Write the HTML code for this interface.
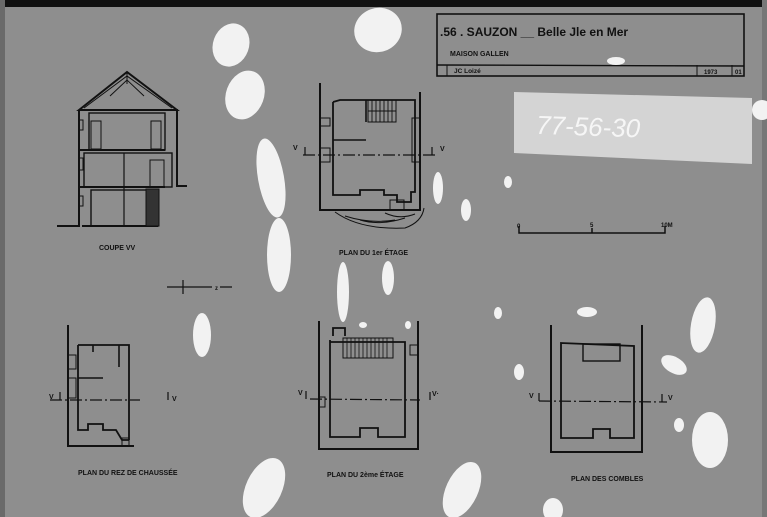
<!DOCTYPE html>
<html><head><style>
html,body{margin:0;padding:0;background:#8c8c8c;}
svg{display:block;}
text{font-family:"Liberation Sans",sans-serif;font-weight:bold;fill:#111;}
</style></head><body>
<svg width="767" height="517" viewBox="0 0 767 517" xmlns="http://www.w3.org/2000/svg">
<rect width="767" height="517" fill="#8e8e8e"/>
<rect x="0" y="0" width="767" height="7" fill="#111"/>
<rect x="0" y="0" width="5" height="517" fill="#6a6a6a"/>
<rect x="762" y="0" width="5" height="517" fill="#777"/>

<g fill="none" stroke="#111" stroke-width="2">
<rect x="437" y="14" width="307" height="62" stroke-width="1.6"/>
<line x1="437" y1="65" x2="744" y2="66" stroke-width="1.4"/>
<line x1="447" y1="65" x2="447" y2="76" stroke-width="1"/>
<line x1="697" y1="65" x2="697" y2="76" stroke-width="1"/>
<line x1="732" y1="65" x2="732" y2="76" stroke-width="1"/>

<path d="M79 110 L127 72 L177 110 Z" stroke-width="2"/>
<path d="M84 108 L127 76 L172 108 M127 72 L127 84 M110 96 L127 80 L144 96" stroke-width="1"/>
<path d="M79 110 L79 226 L57 226 M79 110 L177 110 L177 186 L187 186"/>
<line x1="79" y1="150" x2="165" y2="150"/>
<line x1="79" y1="187" x2="165" y2="187"/>
<line x1="82" y1="226" x2="158" y2="226"/>
<rect x="89" y="113" width="76" height="37" stroke-width="1.4"/>
<rect x="84" y="153" width="88" height="34" stroke-width="1.4"/>
<rect x="91" y="190" width="67" height="36" stroke-width="1.4"/>
<rect x="91" y="121" width="10" height="28" stroke-width="1"/>
<rect x="151" y="121" width="10" height="28" stroke-width="1"/>
<rect x="150" y="160" width="14" height="27" stroke-width="1"/>
<line x1="124" y1="153" x2="124" y2="226" stroke-width="1.2"/>
<path d="M79 120 h4 v10 h-4 M79 158 h4 v12 h-4 M79 196 h4 v10 h-4" stroke-width="1"/>
<rect x="146" y="189" width="13" height="37" fill="#333" stroke-width="1"/>

<path d="M320 83 L320 210 L420 210 L420 92"/>
<path d="M333 102 L340 100 L415 100 L415 140 M333 102 L333 195 L360 195 L360 190 L384 190 L384 195 L397 195 L397 202 L411 202 L411 192 L415 192 L415 140" stroke-width="1.8"/>
<path d="M333 140 L366 140 M366 100 L366 122" stroke-width="1.6"/>
<rect x="368" y="100" width="28" height="22" stroke-width="1"/>
<path d="M372 100v22 M376 100v22 M380 100v22 M384 100v22 M388 100v22 M392 100v22 M368 111 h28" stroke-width="0.9"/>
<path d="M320 118 h10 v8 h-10 M320 148 h10 v14 h-10 M420 118 h-8 v44 h8" stroke-width="1"/>
<rect x="390" y="200" width="14" height="10" stroke-width="1"/>
<path d="M335 212 Q360 230 405 228 Q422 222 424 208 M345 216 Q370 224 395 220 M360 220 Q380 226 405 218 M385 213 Q400 220 415 214" stroke-width="1"/>
<path d="M303 155 L438 155" stroke-dasharray="12 3 2 3" stroke-width="1.2"/>
<path d="M305 155 v-8 M432 155 v-8" stroke-width="1.2"/>

<path d="M519 226 L519 233 L665 233 L665 226 M592 228 L592 233" stroke-width="1.5"/>
<path d="M167 287 L212 287 M220 287 L232 287 M183 280 L183 294" stroke-width="1.2"/>

<path d="M68 325 L68 446 L134 446"/>
<path d="M78 345 L129 345 L129 440 M78 345 L78 430 L88 430 L88 424 L103 424 L103 430 L116 430 L122 440 L129 440" stroke-width="1.8"/>
<path d="M93 345 L93 352 M119 345 L119 367 M78 378 L103 378" stroke-width="1.6"/>
<path d="M68 355 h8 v14 h-8 M68 378 h8 v20 h-8" stroke-width="1"/>
<rect x="122" y="438" width="7" height="8" stroke-width="1"/>
<path d="M50 400 L140 400" stroke-dasharray="12 3 2 3" stroke-width="1.2"/>
<path d="M60 400 v-8 M168 400 v-8" stroke-width="1.2"/>

<path d="M319 321 L319 449 L418 449 L418 321"/>
<path d="M330 340 L330 437 L360 437 L360 428 L378 428 L378 437 L405 437 L405 342 L330 342 M333 336 v-8 h12 v8" stroke-width="1.8"/>
<rect x="343" y="338" width="50" height="20" stroke-width="1"/>
<path d="M347 338v20 M351 338v20 M355 338v20 M359 338v20 M363 338v20 M367 338v20 M371 338v20 M375 338v20 M379 338v20 M383 338v20 M387 338v20" stroke-width="0.8"/>
<path d="M319 397 h6 v10 h-6 M418 345 h-8 v10 h8" stroke-width="1"/>
<path d="M310 399 L420 400" stroke-dasharray="12 3 2 3" stroke-width="1.2"/>
<path d="M306 399 v-8 M430 400 v-8" stroke-width="1.2"/>

<path d="M551 325 L551 452 L642 452 L642 325"/>
<path d="M561 343 L634 346 L634 438 L610 438 L610 429 L593 429 L593 438 L561 438 Z" stroke-width="1.8"/>
<rect x="583" y="344" width="37" height="17" stroke-width="1.4"/>
<path d="M539 401 L667 402" stroke-dasharray="12 3 2 3" stroke-width="1.2"/>
<path d="M539 401 v-8 M662 402 v-8" stroke-width="1.2"/>
</g>

<path d="M514 92 L752 98 L752 164 L514 153 Z" fill="#d4d4d4"/>
<text x="536" y="136" font-size="26" transform="rotate(2 600 130)" style="font-weight:normal;font-style:italic;fill:#f6f6f6">77-56-30</text>

<text x="440" y="36" font-size="12">.56 . SAUZON __ Belle Jle en Mer</text>
<text x="450" y="56" font-size="7">MAISON GALLEN</text>
<text x="454" y="73" font-size="6.5">JC  Loizé</text>
<text x="704" y="74" font-size="6">1973</text>
<text x="735" y="74" font-size="6">01</text>
<text x="99" y="250" font-size="7">COUPE  VV</text>
<text x="339" y="255" font-size="7">PLAN  DU  1er ÉTAGE</text>
<text x="517" y="228" font-size="6">0</text>
<text x="590" y="227" font-size="6">5</text>
<text x="661" y="227" font-size="6">10M</text>
<text x="215" y="290" font-size="6">z</text>
<text x="78" y="475" font-size="7">PLAN  DU  REZ  DE  CHAUSSÉE</text>
<text x="327" y="477" font-size="7">PLAN  DU  2ème  ÉTAGE</text>
<text x="571" y="481" font-size="7">PLAN  DES  COMBLES</text>
<g font-size="7">
<text x="293" y="150">V</text><text x="440" y="151">V</text>
<text x="49" y="399">V</text><text x="172" y="401">V</text>
<text x="298" y="395">V</text><text x="432" y="396">V·</text>
<text x="529" y="398">V</text><text x="668" y="400">V</text>
</g>

<g fill="#f2f2f2">
<ellipse cx="231" cy="45" rx="18" ry="22" transform="rotate(20 231 45)"/>
<ellipse cx="378" cy="30" rx="24" ry="22" transform="rotate(-20 378 30)"/>
<ellipse cx="245" cy="95" rx="19" ry="25" transform="rotate(20 245 95)"/>
<ellipse cx="271" cy="178" rx="13" ry="40" transform="rotate(-10 271 178)"/>
<ellipse cx="279" cy="255" rx="12" ry="37"/>
<ellipse cx="202" cy="335" rx="9" ry="22"/>
<ellipse cx="343" cy="292" rx="6" ry="30"/>
<ellipse cx="388" cy="278" rx="6" ry="17"/>
<ellipse cx="438" cy="188" rx="5" ry="16"/>
<ellipse cx="466" cy="210" rx="5" ry="11"/>
<ellipse cx="508" cy="182" rx="4" ry="6"/>
<ellipse cx="703" cy="325" rx="12" ry="28" transform="rotate(10 703 325)"/>
<ellipse cx="674" cy="365" rx="14" ry="8" transform="rotate(30 674 365)"/>
<ellipse cx="710" cy="440" rx="18" ry="28"/>
<ellipse cx="587" cy="312" rx="10" ry="5"/>
<ellipse cx="519" cy="372" rx="5" ry="8"/>
<ellipse cx="679" cy="425" rx="5" ry="7"/>
<ellipse cx="264" cy="488" rx="18" ry="32" transform="rotate(25 264 488)"/>
<ellipse cx="462" cy="490" rx="16" ry="30" transform="rotate(25 462 490)"/>
<ellipse cx="553" cy="510" rx="10" ry="12"/>
<ellipse cx="762" cy="110" rx="10" ry="10"/>
<ellipse cx="616" cy="61" rx="9" ry="4"/>
<ellipse cx="498" cy="313" rx="4" ry="6"/>
<ellipse cx="408" cy="325" rx="3" ry="4"/>
<ellipse cx="363" cy="325" rx="4" ry="3"/>
</g>
</svg>
</body></html>
